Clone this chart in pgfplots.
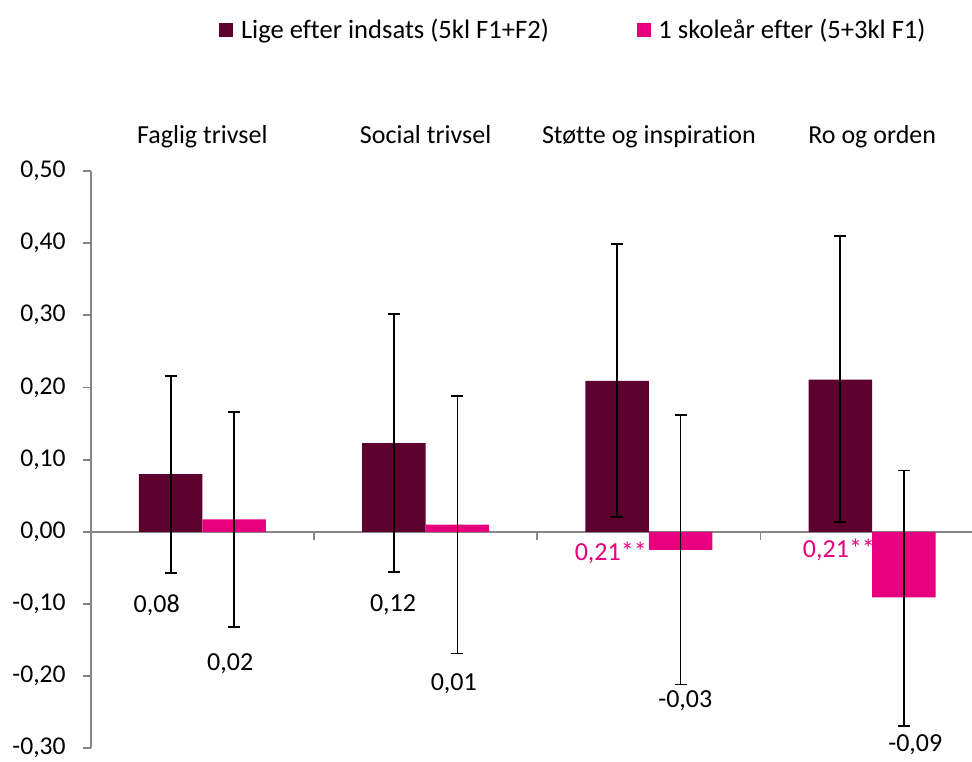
\documentclass[border=0pt]{standalone}
\usepackage{pgfplots}
\pgfplotsset{compat=1.18}
\usepackage{pgfplotstable}
\usepackage{fontspec}
\setmainfont{Carlito}[Ligatures={NoCommon}]
\definecolor{darkred}{RGB}{94,0,46}
\definecolor{pinkbar}{RGB}{230,0,126}
\definecolor{axisgray}{RGB}{134,134,134}

\pgfplotstableread{
x y ep em
0 0.080 0.136 0.137
1 0.123 0.179 0.179
2 0.209 0.190 0.189
3 0.211 0.199 0.198
}\darktab
\pgfplotstableread{
x y ep em
0 0.017 0.149 0.149
1 0.010 0.178 0.179
2 -0.025 0.187 0.187
3 -0.091 0.176 0.178
}\pinktab

\begin{document}
\begin{tikzpicture}
\begin{axis}[
  at={(0,0)}, anchor=south west,
  scale only axis, width=440.65pt, height=288.6pt,
  xmin=-0.5, xmax=3.447, ymin=-0.3, ymax=0.5,
  axis x line*=middle, axis y line*=left,
  axis line style={axisgray, line width=0.9pt},
  xtick={0.5,1.5,2.5}, xticklabels={},
  ytick={-0.3,-0.2,-0.1,0,0.1,0.2,0.3,0.4,0.5},
  tick style={axisgray, line width=0.9pt},
  tick align=outside, major tick length=4pt,
  yticklabel style={xshift=-5pt, /pgf/number format/.cd, fixed, fixed zerofill, precision=2, use comma, assume math mode=true},
  every tick label/.append style={font=\fontsize{12.8}{15}\selectfont, black},
  ybar=0pt, bar width=31.75pt,
  clip=false,
  font=\fontsize{13}{15.6}\selectfont,
  legend columns=2,
  legend style={at={(0.1456,1.2443)}, anchor=west, draw=none, inner sep=0pt,
    font=\fontsize{13.3}{16}\selectfont,
    nodes={inner sep=0pt},
    /tikz/every odd column/.append style={column sep=3.8pt},
    /tikz/every even column/.append style={column sep=44pt}},
  legend cell align=left,
  legend image code/.code={\fill[#1] (0pt,-3.5pt) rectangle (7pt,3.5pt);},
]
\addplot[fill=darkred, draw=none,
  error bars/.cd, y dir=both, y explicit,
  error bar style={black, line width=1pt},
  error mark options={rotate=90, mark size=3pt, black, line width=1pt}]
  table[x=x, y=y, y error plus=ep, y error minus=em]{\darktab};
\addlegendentry{Lige efter indsats (5kl F1+F2)}
\addplot[fill=pinkbar, draw=none,
  error bars/.cd, y dir=both, y explicit,
  error bar style={black, line width=0.7pt},
  error mark options={rotate=90, mark size=3pt, black, line width=0.7pt}]
  table[x=x, y=y, y error plus=ep, y error minus=em]{\pinktab};
\addlegendentry{1 skoleår efter (5+3kl F1)}

\node[anchor=base] at (axis cs:0,0.5388) {Faglig trivsel};
\node[anchor=base] at (axis cs:1,0.5388) {Social trivsel};
\node[anchor=base] at (axis cs:2,0.5388) {Støtte og inspiration};
\node[anchor=base] at (axis cs:3,0.5388) {Ro og orden};

\node at (axis cs:-0.2044,-0.1016) {0,08};
\node at (axis cs:0.125,-0.1834) {0,02};
\node at (axis cs:0.854,-0.1016) {0,12};
\node at (axis cs:1.126,-0.210) {0,01};
\node[text=pinkbar] at (axis cs:1.829,-0.0294) {0,21**};
\node at (axis cs:2.163,-0.2339) {-0,03};
\node[text=pinkbar] at (axis cs:2.851,-0.0255) {0,21**};
\node at (axis cs:3.193,-0.2957) {-0,09};
\end{axis}
\pgfresetboundingbox
\useasboundingbox (-45.35pt,-6.6pt) rectangle (440.65pt,374.1pt);
\end{tikzpicture}
\end{document}
